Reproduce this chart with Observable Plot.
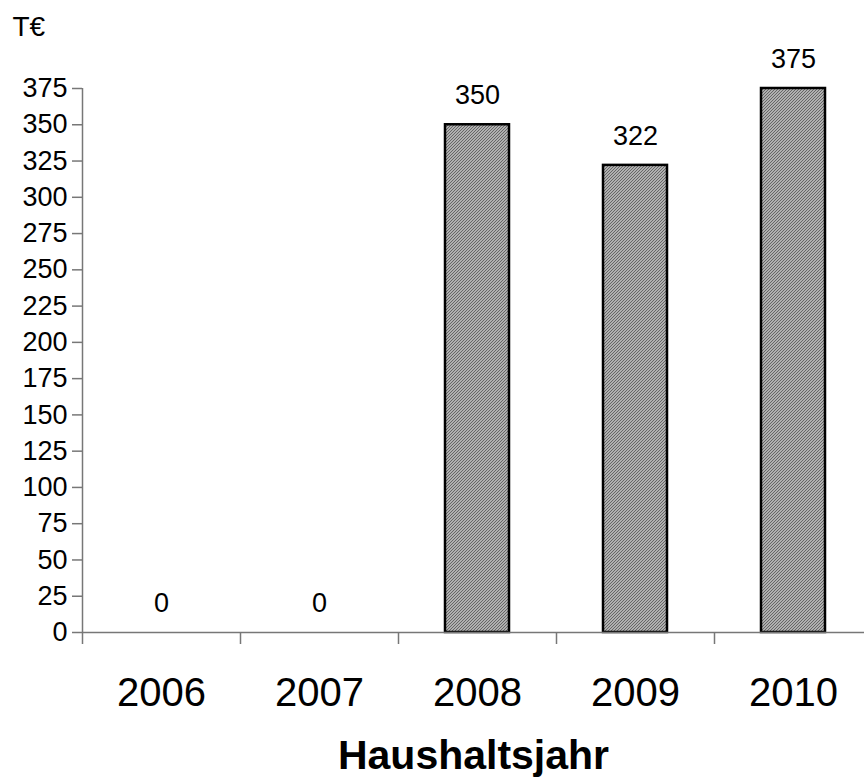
<!DOCTYPE html>
<html>
<head>
<meta charset="utf-8">
<script src="https://cdn.jsdelivr.net/npm/d3@7"></script>
<script src="https://cdn.jsdelivr.net/npm/@observablehq/plot@0.6"></script>
<style>
  html, body { margin: 0; padding: 0; background: #fff; }
  #chart svg { display: block; overflow: visible; }
</style>
</head>
<body>
<div id="chart"></div>
<script>
// Haushaltsjahre und Beträge in T€
const years = ["2006", "2007", "2008", "2009", "2010"];
const values = [0, 0, 350, 322, 375];
const yTicks = [0, 25, 50, 75, 100, 125, 150, 175, 200, 225, 250, 275, 300, 325, 350, 375];
const unitLabel = "T€";
const axisTitle = "Haushaltsjahr";

const data = years.map((year, i) => ({ year, index: i, value: values[i] }));

// fein schraffierte Füllung der Säulen
const hatchDefs = () => {
  const defs = d3.create("svg:defs");
  const p = defs.append("pattern")
    .attr("id", "hatch")
    .attr("patternUnits", "userSpaceOnUse")
    .attr("width", 3)
    .attr("height", 3);
  p.append("rect").attr("width", 3).attr("height", 3).attr("fill", "#b0b0b0");
  p.append("path")
    .attr("d", "M-1,1 L1,-1 M0,3 L3,0 M2,4 L4,2")
    .attr("stroke", "#666")
    .attr("stroke-width", 1);
  return defs.node();
};

const chart = Plot.plot({
  width: 864,
  height: 780,
  marginTop: 88,
  marginBottom: 148,
  marginLeft: 82,
  marginRight: 0,
  style: { fontFamily: "'Liberation Sans', Arial, sans-serif", background: "#fff", color: "#000" },
  x: { type: "linear", domain: [0, years.length], range: [82, 872] },
  y: { domain: [0, 375], range: [632, 88] },
  marks: [
    hatchDefs,
    Plot.rectY(data.filter(d => d.value > 0), {
      x1: d => d.index,
      x2: d => d.index + 1,
      y: "value",
      insetLeft: 47,
      insetRight: 47,
      fill: "url(#hatch)",
      stroke: "#000",
      strokeWidth: 2.5
    }),
    // Achsenlinien
    Plot.ruleY([0], { stroke: "#777", strokeWidth: 1.5 }),
    Plot.ruleX([0], { y1: 0, y2: 375, stroke: "#777", strokeWidth: 1.5 }),
    Plot.axisY(yTicks, {
      tickSize: 10,
      tickPadding: 5,
      stroke: "#777",
      strokeWidth: 1.5,
      fontSize: 27,
      label: null
    }),
    // Trennstriche zwischen den Jahren
    Plot.axisX(d3.range(years.length + 1), {
      tickSize: 12,
      stroke: "#777",
      strokeWidth: 1.5,
      tickFormat: () => "",
      label: null
    }),
    Plot.text(data, {
      x: d => d.index + 0.5,
      y: 0,
      text: "year",
      dy: 61,
      fontSize: 40,
      fill: "#000"
    }),
    Plot.text(data, {
      x: d => d.index + 0.5,
      y: "value",
      text: d => String(d.value),
      dy: -29,
      fontSize: 27,
      fill: "#000"
    }),
    Plot.text([unitLabel], {
      frameAnchor: "top-left",
      lineAnchor: "middle",
      dx: -70,
      dy: -61,
      textAnchor: "start",
      fontSize: 28,
      fill: "#000"
    }),
    Plot.text([axisTitle], {
      frameAnchor: "bottom",
      lineAnchor: "middle",
      dy: 123,
      fontSize: 41,
      fontWeight: "bold",
      fill: "#000"
    })
  ]
});

document.getElementById("chart").appendChild(chart);
</script>
</body>
</html>
